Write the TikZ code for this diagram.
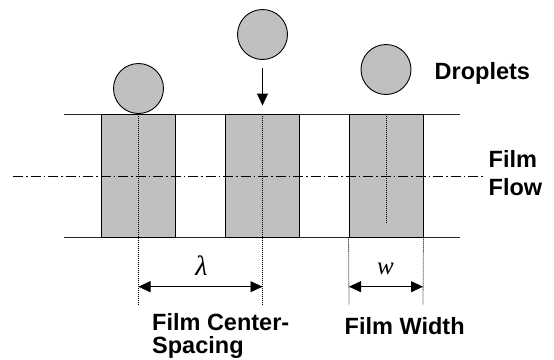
\documentclass[tikz,border=0pt]{standalone}
\usepackage{fontspec}
\setmainfont{Liberation Sans}
\newfontfamily\seriffam{Liberation Serif}
\usetikzlibrary{arrows.meta}
\definecolor{filmgray}{HTML}{C0C0C0}
\tikzset{
  filmbox/.style={draw=black, line width=0.9pt, fill=filmgray, minimum width=74pt, minimum height=123pt, inner sep=0pt},
  drop/.style={circle, draw=black, line width=0.9pt, fill=filmgray, minimum size=50pt, inner sep=0pt},
  edgeline/.style={line width=0.9pt, black!85},
  dotline/.style={line width=0.8pt, dash pattern=on 1pt off 1pt},
  dashdot/.style={line width=0.8pt, dash pattern=on 10pt off 3pt on 1.5pt off 3pt},
  tip/.style={-{Triangle[length=12pt,width=11pt]}, line width=0.9pt},
  dimarrow/.style={{Triangle[length=12pt,width=11pt]}-{Triangle[length=12pt,width=11pt]}, line width=0.9pt},
  lbl/.style={font=\fontsize{23.5}{27}\selectfont\bfseries, inner sep=0pt, anchor=base west},
  sym/.style={font=\fontsize{25}{28}\selectfont\seriffam\itshape, inner sep=0pt, anchor=base}
}
\begin{document}
\begin{tikzpicture}[x=1pt, y=-1pt]
\useasboundingbox (0,0) rectangle (554,359);
% horizontal boundary lines
\coordinate (tl) at (64,114);
\coordinate (tr) at (460,114);
\coordinate (bl) at (64,237);
\coordinate (br) at (460,237);
\draw[edgeline] (tl) -- (tr);
\draw[edgeline] (bl) -- (br);
% films
\node[filmbox] (f1) at (138.5,175.5) {};
\node[filmbox] (f2) at (262.5,175.5) {};
\node[filmbox] (f3) at (386,175.5) {};
% flow centre line
\coordinate (fl) at (13,176);
\coordinate (fr) at (483,176);
\draw[dashdot] (fl) -- (fr);
% droplets
\node[drop] (c1) at (138.5,88.5) {};
\node[drop] (c2) at (262.5,34.5) {};
\node[drop] (c3) at (386,69.5) {};
\draw[tip] ([yshift=-8.5pt]c2.south) -- ([yshift=8pt]f2.north);
% dotted lines
\coordinate (d1) at (138.5,305);
\coordinate (d2) at (262.5,305);
\coordinate (d3) at (386,223);
\coordinate (e3l) at (349,305);
\coordinate (e3r) at (423,305);
\draw[dotline] (f1.north) -- (d1);
\draw[dotline] (f2.north) -- (d2);
\draw[dotline] (f3.north) -- (d3);
\draw[dotline] (f3.south west) -- (e3l);
\draw[dotline] (f3.south east) -- (e3r);
% dimension arrows
\coordinate (la) at (138.5,286.7);
\coordinate (lb) at (262.5,286.7);
\coordinate (wa) at (349,286.7);
\coordinate (wb) at (423,286.7);
\draw[dimarrow] (la) -- (lb);
\draw[dimarrow] (wa) -- (wb);
\node[sym, font=\fontsize{28}{30}\selectfont\seriffam\itshape] (lam) at (201.5,275) {λ};
\node[sym] (wsym) at (385.5,274.3) {w};
% labels
\node[lbl] (tdrop) at (434.5,79.5) {Droplets};
\node[lbl] (tfilm) at (488.5,167.7) {Film};
\node[lbl] (tflow) at (488.5,195) {Flow};
\node[lbl] (tcs1) at (152,330) {Film Center-};
\node[lbl] (tcs2) at (152,353.3) {Spacing};
\node[lbl] (twid) at (344.5,334.3) {Film Width};
\end{tikzpicture}
\end{document}
